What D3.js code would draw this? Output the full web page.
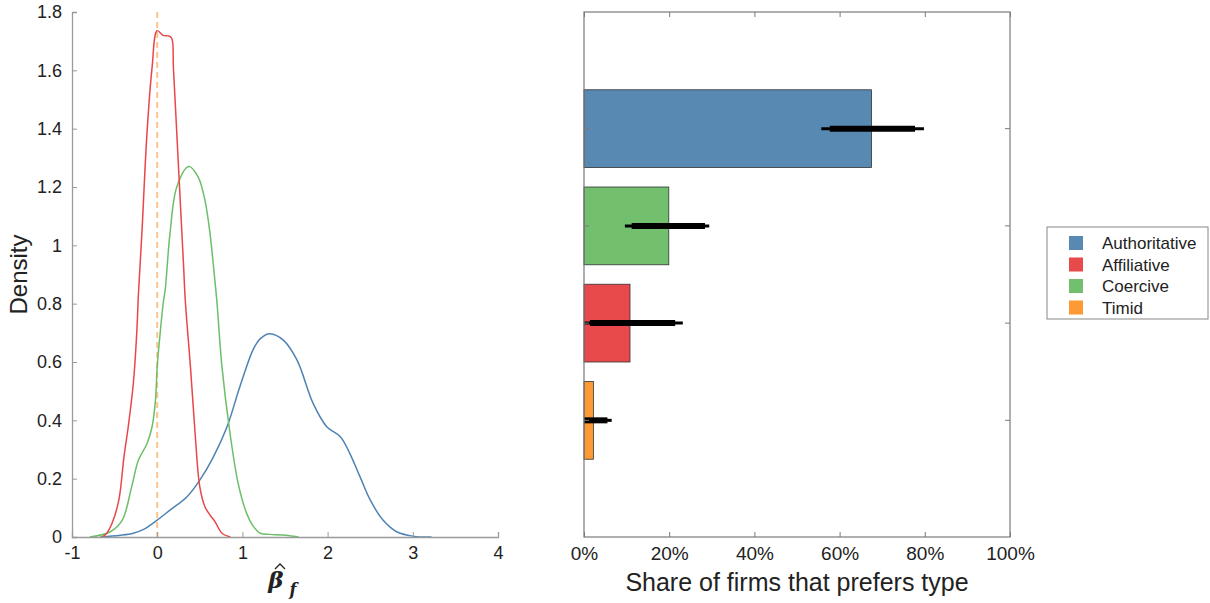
<!DOCTYPE html>
<html>
<head>
<meta charset="utf-8">
<script src="https://cdn.jsdelivr.net/npm/d3@7"></script>
<style>
  html, body { margin: 0; padding: 0; background: #fff; }
  svg { display: block; font-family: "Liberation Sans", Arial, Helvetica, sans-serif; }
</style>
</head>
<body>
<svg id="chart" width="1210" height="603"></svg>
<script>
// ---- Density of estimated beta_f, by leader type ----
const authX = [-0.67, -0.43, -0.28, -0.16, 0.0, 0.15, 0.35, 0.5, 0.66, 0.82, 0.97, 1.13, 1.21, 1.32, 1.48, 1.64, 1.83, 1.99, 2.15, 2.26, 2.38, 2.5, 2.65, 2.81, 3.0, 3.22];
const authY = [0.0, 0.006, 0.013, 0.026, 0.058, 0.092, 0.138, 0.195, 0.275, 0.378, 0.515, 0.645, 0.68, 0.697, 0.675, 0.607, 0.458, 0.378, 0.344, 0.287, 0.207, 0.127, 0.058, 0.018, 0.003, 0.0];

const affX = [-0.65, -0.6, -0.53, -0.45, -0.39, -0.34, -0.28, -0.24, -0.22, -0.18, -0.12, -0.06, 0.0, 0.07, 0.13, 0.17, 0.19, 0.23, 0.27, 0.31, 0.33, 0.39, 0.445, 0.5, 0.56, 0.62, 0.68, 0.76, 0.86];
const affY = [0.0, 0.01, 0.047, 0.127, 0.275, 0.378, 0.527, 0.70, 0.835, 1.04, 1.384, 1.61, 1.736, 1.72, 1.718, 1.71, 1.61, 1.384, 1.155, 0.927, 0.81, 0.584, 0.355, 0.172, 0.104, 0.075, 0.052, 0.013, 0.0];

const coeX = [-0.79, -0.55, -0.41, -0.3, -0.22, -0.12, -0.06, -0.02, 0.0, 0.035, 0.074, 0.094, 0.15, 0.23, 0.37, 0.48, 0.56, 0.62, 0.68, 0.7, 0.76, 0.855, 0.95, 1.05, 1.12, 1.21, 1.32, 1.48, 1.66];
const coeY = [0.0, 0.018, 0.058, 0.172, 0.264, 0.32, 0.378, 0.47, 0.584, 0.70, 0.81, 0.847, 1.04, 1.20, 1.27, 1.235, 1.155, 1.04, 0.87, 0.81, 0.584, 0.355, 0.184, 0.081, 0.04, 0.013, 0.009, 0.007, 0.0];

const betaTicks = [-1, 0, 1, 2, 3, 4];
const densityTicks = [0, 0.2, 0.4, 0.6, 0.8, 1, 1.2, 1.4, 1.6, 1.8];

// ---- Share of firms that prefer each type, with intervals ----
const barTypes = ["Authoritative", "Coercive", "Affiliative", "Timid"];
const barShare = [0.675, 0.199, 0.108, 0.022];
const outerLo = [0.557, 0.096, 0.0, 0.0];
const outerHi = [0.798, 0.294, 0.232, 0.065];
const innerLo = [0.577, 0.112, 0.014, 0.0];
const innerHi = [0.777, 0.284, 0.214, 0.055];
const shareTicks = [0, 0.2, 0.4, 0.6, 0.8, 1.0];

const legendTypes = ["Authoritative", "Affiliative", "Coercive", "Timid"];

const fillColor = {
  Authoritative: "#5889b3",
  Affiliative: "#e8494b",
  Coercive: "#72bf6e",
  Timid: "#fd9a36"
};
const lineColor = {
  Authoritative: "#4f82b4",
  Affiliative: "#e8474a",
  Coercive: "#6cbf68",
  Timid: "#fd9a36"
};

const svg = d3.select("#chart");
const axisGray = "#7a7a7a";
const textColor = "#222";

// ================= Left panel: densities =================
const xL = d3.scaleLinear().domain([-1, 4]).range([72, 498]);
const yL = d3.scaleLinear().domain([0, 1.8]).range([537, 12]);

const left = svg.append("g");

// reference line at beta = 0
left.append("line")
  .attr("x1", xL(0)).attr("x2", xL(0))
  .attr("y1", yL(1.8)).attr("y2", yL(0))
  .attr("stroke", "#fdc48c").attr("stroke-width", 2)
  .attr("stroke-dasharray", "6,4");

const line = d3.line()
  .x(d => xL(d[0])).y(d => yL(d[1]))
  .curve(d3.curveCatmullRom.alpha(0.5));

const curves = [
  { name: "Authoritative", xs: authX, ys: authY },
  { name: "Coercive", xs: coeX, ys: coeY },
  { name: "Affiliative", xs: affX, ys: affY }
];
curves.forEach(c => {
  left.append("path")
    .datum(c.xs.map((x, i) => [x, c.ys[i]]))
    .attr("d", line)
    .attr("fill", "none")
    .attr("stroke", lineColor[c.name])
    .attr("stroke-width", 1.5);
});

// axes (ticks pointing inward)
const xAxisL = left.append("g")
  .attr("transform", `translate(0,${yL(0)})`)
  .call(d3.axisBottom(xL).tickValues(betaTicks).tickSize(-5).tickPadding(9).tickFormat(d => String(d)));
const yAxisL = left.append("g")
  .attr("transform", `translate(${xL(-1)},0)`)
  .call(d3.axisLeft(yL).tickValues(densityTicks).tickSize(-5).tickPadding(10).tickFormat(d => String(d)));
[xAxisL, yAxisL].forEach(a => {
  a.select(".domain").attr("stroke", "#9a9a9a").attr("stroke-width", 1.3);
  a.selectAll(".tick line").attr("stroke", "#9a9a9a");
  a.selectAll(".tick text").attr("fill", textColor).style("font-size", "18px");
});

left.append("text")
  .attr("transform", `translate(27,${(yL(0) + yL(1.8)) / 2}) rotate(-90)`)
  .attr("text-anchor", "middle")
  .attr("fill", textColor)
  .style("font-size", "24px")
  .text("Density");

// x label: beta hat sub f
const bx = (xL(-1) + xL(4)) / 2;
left.append("text")
  .attr("x", bx - 9).attr("y", 588)
  .attr("text-anchor", "middle")
  .attr("fill", textColor)
  .style("font-family", "'DejaVu Serif', 'Liberation Serif', serif")
  .style("font-style", "italic")
  .style("font-weight", "bold")
  .style("font-size", "23px")
  .text("β");
left.append("text")
  .attr("x", bx + 8).attr("y", 595)
  .attr("text-anchor", "middle")
  .attr("fill", textColor)
  .style("font-family", "'DejaVu Serif', 'Liberation Serif', serif")
  .style("font-style", "italic")
  .style("font-weight", "bold")
  .style("font-size", "16px")
  .text("f");
left.append("path")
  .attr("d", `M${bx - 10},569 L${bx - 5},564 L${bx},569`)
  .attr("fill", "none").attr("stroke", textColor).attr("stroke-width", 1.3);

// ================= Right panel: shares =================
const xR = d3.scaleLinear().domain([0, 1]).range([584, 1010]);
const yR = d3.scaleBand().domain(barTypes).range([12, 537]).paddingInner(0.2).paddingOuter(0.8);

const right = svg.append("g");

right.selectAll("rect.bar")
  .data(barTypes)
  .enter().append("rect")
  .attr("class", "bar")
  .attr("x", xR(0))
  .attr("y", d => yR(d))
  .attr("width", (d, i) => xR(barShare[i]) - xR(0))
  .attr("height", yR.bandwidth())
  .attr("fill", d => fillColor[d])
  .attr("stroke", "#333").attr("stroke-width", 0.8);

// interval whiskers: thin outer, thick inner
barTypes.forEach((t, i) => {
  const cy = yR(t) + yR.bandwidth() / 2;
  right.append("line")
    .attr("x1", xR(outerLo[i])).attr("x2", xR(outerHi[i]))
    .attr("y1", cy).attr("y2", cy)
    .attr("stroke", "#000").attr("stroke-width", 3);
  right.append("line")
    .attr("x1", xR(innerLo[i])).attr("x2", xR(innerHi[i]))
    .attr("y1", cy).attr("y2", cy)
    .attr("stroke", "#000").attr("stroke-width", 6);
});

// box frame
right.append("rect")
  .attr("x", xR(0)).attr("y", 12)
  .attr("width", xR(1) - xR(0)).attr("height", 537 - 12)
  .attr("fill", "none").attr("stroke", axisGray).attr("stroke-width", 1.2);

const xAxisR = right.append("g")
  .attr("transform", `translate(0,537)`)
  .call(d3.axisBottom(xR).tickValues(shareTicks).tickSize(-5).tickPadding(10).tickFormat(d3.format(".0%")));
xAxisR.select(".domain").remove();
xAxisR.selectAll(".tick line").attr("stroke", axisGray);
xAxisR.selectAll(".tick text").attr("fill", textColor).style("font-size", "19px");

// mirrored ticks on top edge
const xAxisTop = right.append("g")
  .attr("transform", `translate(0,12)`)
  .call(d3.axisTop(xR).tickValues(shareTicks).tickSize(-5).tickFormat(""));
xAxisTop.select(".domain").remove();
xAxisTop.selectAll(".tick line").attr("stroke", axisGray);

// category ticks on both vertical edges
[xR(0), xR(1)].forEach((ex, k) => {
  const ax = right.append("g")
    .attr("transform", `translate(${ex},0)`)
    .call((k === 0 ? d3.axisLeft(yR) : d3.axisRight(yR)).tickSize(-5).tickFormat(""));
  ax.select(".domain").remove();
  ax.selectAll(".tick line").attr("stroke", axisGray);
});

right.append("text")
  .attr("x", (xR(0) + xR(1)) / 2).attr("y", 591)
  .attr("text-anchor", "middle")
  .attr("fill", textColor)
  .style("font-size", "25px")
  .text("Share of firms that prefers type");

// ================= Legend =================
const legend = svg.append("g").attr("transform", "translate(1047,227)");
legend.append("rect")
  .attr("width", 161).attr("height", 92)
  .attr("fill", "#fff").attr("stroke", "#888").attr("stroke-width", 1);
legendTypes.forEach((t, i) => {
  const cy = 16 + i * 21.5;
  legend.append("rect")
    .attr("x", 22).attr("y", cy - 7)
    .attr("width", 14).attr("height", 14)
    .attr("fill", fillColor[t]);
  legend.append("text")
    .attr("x", 55).attr("y", cy + 6)
    .attr("fill", textColor)
    .style("font-size", "17px")
    .text(t);
});
</script>
</body>
</html>
